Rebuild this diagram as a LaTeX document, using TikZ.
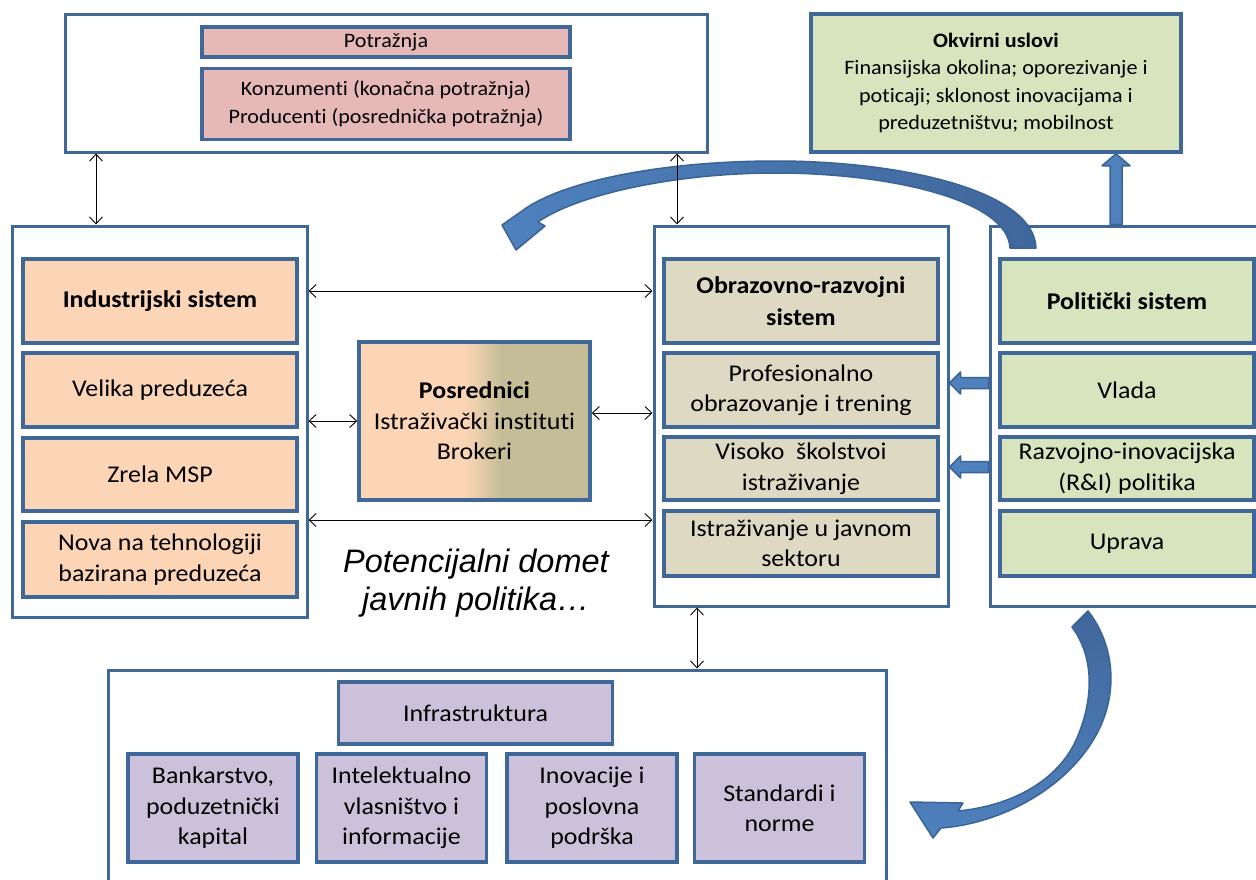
\documentclass[tikz,border=0pt]{standalone}
\usepackage{fontspec}
\setmainfont{Carlito}[FakeStretch=1.08, Ligatures=CommonOff]
\newfontfamily\arialf{Liberation Sans}
\usetikzlibrary{arrows.meta,calc}
\definecolor{bordc}{HTML}{3F6797}
\definecolor{pinkc}{HTML}{E6B9B8}
\definecolor{peachc}{HTML}{FBD5B5}
\definecolor{tanc}{HTML}{DDD9C3}
\definecolor{tanb}{HTML}{C4BD97}
\definecolor{greenc}{HTML}{D7E4BD}
\definecolor{lavc}{HTML}{CCC1DA}
\definecolor{arrf}{HTML}{4F81BD}
\definecolor{arrd}{HTML}{3A6496}
\definecolor{arrdark}{HTML}{40679C}
\pgfdeclarehorizontalshading{posr}{100bp}{color(0bp)=(peachc); color(48bp)=(peachc); color(56bp)=(tanb); color(100bp)=(tanb)}
\newcommand\fsA{\fontsize{24}{30.5}\selectfont}
\newcommand\fsT{\fontsize{24}{32.5}\selectfont\bfseries}
\newcommand\fsB{\fontsize{20.5}{27.5}\selectfont}
\begin{document}
\begin{tikzpicture}[x=1pt,y=-1pt,
  outer/.style={draw=bordc, line width=3pt, fill=white, inner sep=0pt},
  inbox/.style={draw=bordc, line width=3.5pt, inner sep=0pt, align=center, font=\fsA},
  dbl/.style={{Straight Barb[length=7pt,width=13pt]}-{Straight Barb[length=7pt,width=13pt]}, line width=0.9pt, black},
  blk/.style={fill=arrf, draw=arrd, line width=1.5pt, line join=round}
]
\useasboundingbox[fill=white] (0,0) rectangle (1256,879);

% outer containers
\node[outer, minimum width=642pt, minimum height=138pt] (topo) at (386,83) {};
\node[outer, minimum width=295pt, minimum height=391pt] (leftO) at (159.5,421.5) {};
\node[outer, minimum width=294pt, minimum height=380pt] (midO) at (801,416) {};
\node[outer, minimum width=276pt, minimum height=380pt] (polO) at (1128,416) {};
\node[outer, minimum width=778pt, minimum height=225pt] (botO) at (497,782.5) {};

% top demand box
\node[inbox, fill=pinkc, minimum width=368pt, minimum height=30pt, font=\fsB] (potr) at (386,42) {Potražnja};
\node[inbox, fill=pinkc, minimum width=368pt, minimum height=71pt, font=\fsB] (konz) at (386,104) {Konzumenti (konačna potražnja)\\Producenti (posrednička potražnja)};

% framework conditions
\node[inbox, fill=greenc, minimum width=370pt, minimum height=138pt, font=\fsB] (okv) at (996,83) {\textbf{Okvirni uslovi}\\Finansijska okolina; oporezivanje i\\poticaji; sklonost inovacijama i\\preduzetništvu; mobilnost};

% industrial system
\node[inbox, fill=peachc, minimum width=274pt, minimum height=84pt, font=\fsT] (ind) at (160,301) {Industrijski sistem};
\node[inbox, fill=peachc, minimum width=274pt, minimum height=74pt] (vel) at (160,390) {Velika preduzeća};
\node[inbox, fill=peachc, minimum width=274pt, minimum height=73pt] (zre) at (160,474.5) {Zrela MSP};
\node[inbox, fill=peachc, minimum width=274pt, minimum height=75pt] (nova) at (160,559.5) {Nova na tehnologiji\\bazirana preduzeća};

% intermediaries
\node[inbox, shade, shading=posr, minimum width=231pt, minimum height=158pt] (posr) at (474.5,421) {\textbf{Posrednici}\\Istraživački instituti\\Brokeri};

% education system
\node[inbox, fill=tanc, minimum width=274pt, minimum height=84pt, font=\fsT] (obr) at (801,301) {Obrazovno-razvojni\\sistem};
\node[inbox, fill=tanc, minimum width=274pt, minimum height=74pt] (prof) at (801,390) {Profesionalno\\obrazovanje i trening};
\node[inbox, fill=tanc, minimum width=274pt, minimum height=63pt] (vis) at (801,468.5) {Visoko\ \ školstvoi\\istraživanje};
\node[inbox, fill=tanc, minimum width=274pt, minimum height=65pt] (ist) at (801,543.5) {Istraživanje u javnom\\sektoru};

% political system
\node[inbox, fill=greenc, minimum width=254pt, minimum height=84pt, font=\fsT] (pol) at (1127,301) {Politički sistem};
\node[inbox, fill=greenc, minimum width=254pt, minimum height=74pt] (vla) at (1127,390) {Vlada};
\node[inbox, fill=greenc, minimum width=254pt, minimum height=63pt] (raz) at (1127,468.5) {Razvojno-inovacijska\\(R\&I) politika};
\node[inbox, fill=greenc, minimum width=254pt, minimum height=65pt] (upr) at (1127,543.5) {Uprava};

% infrastructure
\node[inbox, fill=lavc, minimum width=274pt, minimum height=62pt] (inf) at (475.5,713) {Infrastruktura};
\node[inbox, fill=lavc, minimum width=170pt, minimum height=108pt] (bank) at (213,808) {Bankarstvo,\\poduzetnički\\kapital};
\node[inbox, fill=lavc, minimum width=170pt, minimum height=108pt] (intel) at (401.5,808) {Intelektualno\\vlasništvo i\\informacije};
\node[inbox, fill=lavc, minimum width=170pt, minimum height=108pt] (inov) at (592,808) {Inovacije i\\poslovna\\podrška};
\node[inbox, fill=lavc, minimum width=170pt, minimum height=108pt] (stan) at (779.5,808) {Standardi i\\norme};

% italic caption
\node[font={\arialf\itshape\fontsize{32.5}{38.5}\selectfont}, align=center, inner sep=0pt] (cap) at (476,583) {Potencijalni domet\\javnih politika…};

% big curved arrow (top)
\path[blk, left color=arrf, right color=arrdark]
  (1036,248) .. controls (1034,190) and (900,161) .. (776,161)
  .. controls (660,161) and (560,182) .. (522,211)
  -- (502,225) -- (516,250) -- (545,226) -- (538,222)
  .. controls (575,196) and (670,173) .. (776,173)
  .. controls (890,173) and (1008,200) .. (1010,248) -- cycle;

% curved arrow (bottom right)
\path[blk, top color=arrdark, bottom color=arrf]
  (1088,611) .. controls (1115,645) and (1122,700) .. (1088,748)
  .. controls (1055,795) and (995,824) .. (941,828)
  -- (933,838) -- (910,802) -- (963,803) -- (958,811)
  .. controls (1010,806) and (1058,782) .. (1077,738)
  .. controls (1095,696) and (1093,655) .. (1072,627) -- cycle;

% block arrows
\coordinate (b1) at (midO.east |- 0,383);
\coordinate (b2) at (midO.east |- 0,467);
\draw[blk] (b1) -- ++(11,-11) -- ++(0,5.5) -- ($(polO.west |- 0,383)+(0,-5.5)$) -- ($(polO.west |- 0,383)+(0,5.5)$) -- ($(b1)+(11,5.5)$) -- ++(0,5.5) -- cycle;
\draw[blk] (b2) -- ++(11,-11) -- ++(0,5.5) -- ($(polO.west |- 0,467)+(0,-5.5)$) -- ($(polO.west |- 0,467)+(0,5.5)$) -- ($(b2)+(11,5.5)$) -- ++(0,5.5) -- cycle;
\coordinate (u1) at (okv.south -| 1116,0);
\draw[blk] (u1) -- ++(14,12) -- ++(-8,0) -- (polO.north -| 1122,0) -- (polO.north -| 1110,0) -- ($(u1)+(-6,12)$) -- ++(-8,0) -- cycle;

% thin double arrows
\draw[dbl] (topo.south -| 96,0) -- (leftO.north -| 96,0);
\draw[dbl] (topo.south -| 677,0) -- (midO.north -| 677,0);
\draw[dbl] (leftO.east |- 0,291) -- (midO.west |- 0,291);
\draw[dbl] (leftO.east |- 0,421) -- (posr.west |- 0,421);
\draw[dbl] (posr.east |- 0,413) -- (midO.west |- 0,413);
\draw[dbl] (leftO.east |- 0,520) -- (midO.west |- 0,520);
\draw[dbl] (midO.south -| 697,0) -- (botO.north -| 697,0);
\end{tikzpicture}
\end{document}
